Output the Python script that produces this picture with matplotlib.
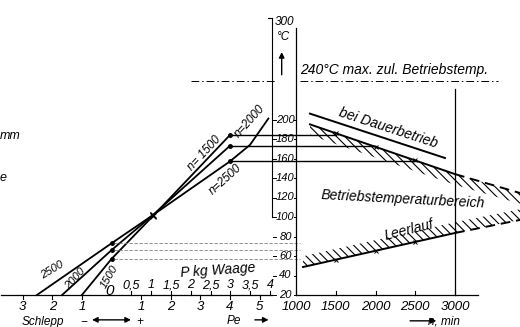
import numpy as np
import matplotlib
matplotlib.use("Agg")
import matplotlib.pyplot as plt

plt.rcParams['font.family'] = ['Liberation Sans', 'DejaVu Sans']
plt.rcParams['font.style'] = 'italic'
plt.rcParams['hatch.linewidth'] = 0.8

# --- Daten (links: Pe -> Temperatur, rechts: Drehzahl -> Temperatur) ---
pe_1500 = [-1.0, 0.0, 1.4, 4.0]
t_1500 = [20, 57, 101, 184]
pe_2000 = [-1.67, 0.0, 1.4, 4.0]
t_2000 = [20, 66, 102, 173]
pe_2500 = [-2.52, 0.0, 1.4, 4.0, 4.68, 5.3]
t_2500 = [20, 73, 102, 157, 174, 201]

rpm_dauer = [1176, 2874]          # bei Dauerbetrieb
t_dauer = [206, 160.5]
rpm_grenze = [1176, 3000]         # obere Grenze Betriebstemperaturbereich
t_grenze = [195, 144]
rpm_grenze_ext = [3000, 3818]
t_grenze_ext = [144, 124.6]
rpm_leer = [1088, 3000]           # Leerlauf
t_leer = [48.7, 83.6]
rpm_leer_ext = [3000, 3818]
t_leer_ext = [83.6, 97]

drehzahlen = [1500, 2000, 2500]
pe_ticks = [-3, -2, -1, 1, 2, 3, 4, 5]
pe_labels = ['3', '2', '1', '1', '2', '3', '4', '5']
p_kg = [0.5, 1, 1.5, 2, 2.5, 3, 3.5, 4]
p_kg_labels = ['0,5', '1', '1,5', '2', '2,5', '3', '3,5', '4']
rpm_ticks = [1000, 1500, 2000, 2500, 3000]
t_ticks = [20, 40, 60, 80, 100, 120, 140, 160, 180, 200]
KG_ZU_PE = 1.34

W, H = 520, 327
fig = plt.figure(figsize=(W / 100, H / 100), dpi=100)
ax_l = fig.add_axes([0, 0, 1, 1])
ax_r = fig.add_axes([0, 0, 1, 1])
for ax in (ax_l, ax_r):
    ax.set_axis_off()
    ax.patch.set_alpha(0)
# Skalen an die Zeichnung angepasst
tlim = (20 - 32 / 0.975, 20 + 295 / 0.975)
ax_l.set_xlim(-111.5 / 29.6, (W - 111.5) / 29.6)
ax_r.set_xlim(1000 - 296 * 2000 / 159, 1000 + (W - 296) * 2000 / 159)
ax_l.set_ylim(tlim)
ax_r.set_ylim(tlim)

def px(x, y, s, **kw):
    fig.text(x / W, 1 - y / H, s, **kw)

def pe2rpm(pe):
    d = ax_l.transData.transform((pe, 0))
    return ax_r.transData.inverted().transform(d)[0]

k = 'black'
# --- linkes Diagramm ---
ax_l.plot([-3.72, 5.42], [20, 20], color=k, lw=0.9)
for p in pe_ticks:
    ax_l.plot([p, p], [20, 16], color=k, lw=0.8)
for p in p_kg:
    ax_l.plot([p * KG_ZU_PE] * 2, [20, 24], color=k, lw=0.8)
for pe_n, t_n in ((pe_1500, t_1500), (pe_2000, t_2000), (pe_2500, t_2500)):
    ax_l.plot(pe_n, t_n, color=k, lw=1.3)
    ax_l.plot([pe_n[1], pe_n[3]], [t_n[1], t_n[3]], 'o', color=k, ms=2.5)
    ax_l.plot(pe_n[2:3], t_n[2:3], 'x', color=k, ms=4, mew=0.8)

# Projektionslinien
for t_n, n in ((t_1500, 1500), (t_2000, 2000), (t_2500, 2500)):
    ax_r.plot([pe2rpm(4.0), n], [t_n[3], t_n[3]], color=k, lw=1.0)
    ax_r.plot([pe2rpm(0.1), 1050], [t_n[1], t_n[1]], color='0.5', lw=0.6, ls=(0, (4, 2)))

for p, s in zip(pe_ticks, pe_labels):
    ax_l.text(p, 7.5, s, ha='center', va='center', fontsize=9.5)
for p, s in zip(p_kg, p_kg_labels):
    ax_l.text(p * KG_ZU_PE, 30, s, ha='center', va='center', fontsize=9)
ax_l.text(-0.05, 24, '0', ha='center', va='center', fontsize=11)
px(218, 270, 'P kg Waage', ha='center', va='center', fontsize=10, rotation=4)
px(52, 270, '2500', ha='center', va='center', fontsize=8, rotation=31)
px(75, 279, '2000', ha='center', va='center', fontsize=8, rotation=48)
px(109, 277, '1500', ha='center', va='center', fontsize=8, rotation=60)
px(204, 153, 'n= 1500', ha='center', va='center', fontsize=8.5, rotation=47)
px(250, 121, 'n=2000', ha='center', va='center', fontsize=8.5, rotation=48)
px(225, 180, 'n=2500', ha='center', va='center', fontsize=8.5, rotation=42)
px(22, 321.5, 'Schlepp', ha='left', va='center', fontsize=8.5)
px(84, 321.5, '\u2212', ha='center', va='center', fontsize=8.5)
ax_l.annotate('', xy=(-0.75, -5.5), xytext=(0.75, -5.5),
              arrowprops=dict(arrowstyle='<|-|>', color=k, lw=1.0, mutation_scale=8))
px(140, 321.5, '+', ha='center', va='center', fontsize=8.5)
px(234, 321.5, 'Pe', ha='center', va='center', fontsize=8.5)
ax_l.annotate('', xy=(5.4, -5.5), xytext=(4.75, -5.5),
              arrowprops=dict(arrowstyle='-|>', color=k, lw=1.0, mutation_scale=8))
px(0, 136, 'mm', ha='left', va='center', fontsize=9)
px(0, 178, 'e', ha='left', va='center', fontsize=9)

# --- rechtes Diagramm ---
ax_r.plot([1000, 3290], [20, 20], color=k, lw=0.9)
for r in rpm_ticks:
    ax_r.plot([r, r], [20, 24], color=k, lw=0.8)
    ax_r.text(r, 7.5, str(r), ha='center', va='center', fontsize=9.5)
ax_r.plot([1000, 1000], [20, 294], color=k, lw=0.9)
x_lin = pe2rpm(5.42)
ax_r.plot([x_lin, x_lin], [100, 304], color=k, lw=0.8)
ax_r.plot([x_lin - 55, x_lin], [304, 304], color=k, lw=0.8)
for t in t_ticks:
    ax_r.text(868, t, str(t), ha='center', va='center', fontsize=8)
    ax_r.plot([705, 750], [t, t], color=k, lw=0.7)
    ax_r.plot([970, 1000], [t, t], color=k, lw=0.7)
px(284, 22, '300', ha='center', va='center', fontsize=8.5)
px(284, 37, '°C', ha='center', va='center', fontsize=8.5)
ax_r.annotate('', xy=(820, 272), xytext=(820, 243),
              arrowprops=dict(arrowstyle='-|>', color=k, lw=1.0, mutation_scale=8))

# 240 °C Grenze
ax_l.plot([2.7, 5.6], [240, 240], color=k, lw=0.7, ls=(0, (8, 3, 1.5, 3)))
ax_r.plot([1050, 3540], [240, 240], color=k, lw=0.7, ls=(0, (8, 3, 1.5, 3)))
px(300, 70, '240°C max. zul. Betriebstemp.', ha='left', va='center', fontsize=10)
ax_r.plot([3000, 3000], [20, 231], color=k, lw=0.9)

# Kurven mit Schraffur
ax_r.plot(rpm_dauer, t_dauer, color=k, lw=1.4)
ax_r.plot(rpm_grenze, t_grenze, color=k, lw=1.4)
ax_r.plot(rpm_grenze_ext, t_grenze_ext, color=k, lw=1.4, ls=(0, (5, 3)))
ax_r.fill_between(rpm_grenze + rpm_grenze_ext[1:], t_grenze + t_grenze_ext[1:],
                  np.array(t_grenze + t_grenze_ext[1:]) - 11,
                  facecolor='none', edgecolor=k, hatch='\\\\\\\\', linewidth=0)
ax_r.plot(rpm_leer, t_leer, color=k, lw=1.4)
ax_r.plot(rpm_leer_ext, t_leer_ext, color=k, lw=1.4, ls=(0, (5, 3)))
ax_r.fill_between(rpm_leer + rpm_leer_ext[1:], t_leer + t_leer_ext[1:],
                  np.array(t_leer + t_leer_ext[1:]) + 11,
                  facecolor='none', edgecolor=k, hatch='\\\\\\\\', linewidth=0)
ax_r.plot(drehzahlen, np.interp(drehzahlen, rpm_leer, t_leer), 'x', color=k, ms=3, mew=0.7)
ax_r.plot(drehzahlen, np.interp(drehzahlen, rpm_grenze, t_grenze), 'x', color=k, ms=3, mew=0.7)

px(388, 128, 'bei Dauerbetrieb', ha='center', va='center', fontsize=10, rotation=-18)
px(403, 199, 'Betriebstemperaturbereich', ha='center', va='center', fontsize=10, rotation=-3)
px(409, 230, 'Leerlauf', ha='center', va='center', fontsize=10, rotation=14)
ax_r.annotate('', xy=(2800, -6.5), xytext=(2400, -6.5),
              arrowprops=dict(arrowstyle='-|>', color=k, lw=1.0, mutation_scale=8))
px(428, 321.5, 'n, min', ha='left', va='center', fontsize=8.5)

fig.savefig('out.png', dpi=100)
